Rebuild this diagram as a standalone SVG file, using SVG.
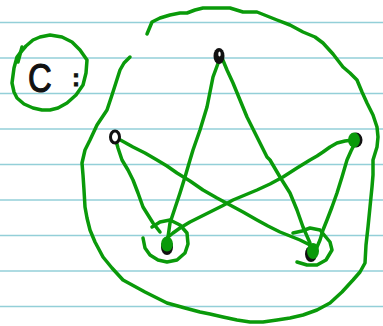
<svg xmlns="http://www.w3.org/2000/svg" width="383" height="326" viewBox="0 0 383 326">
<style>
.rule{stroke:#93cfd8;stroke-width:1.5}
.ink{fill:none;stroke:#0a9a0a;stroke-width:3.5;stroke-linecap:round;stroke-linejoin:round}
.blk{fill:#111}
.gf{fill:#0a9a0a}
.lbl{font-family:"Liberation Sans",Arial,sans-serif;fill:#111;stroke:#111}
</style>
<rect width="383" height="326" fill="#fff"/>
<g id="paper">
<line class="rule" x1="0" y1="22.5" x2="383" y2="22.5"/>
<line class="rule" x1="0" y1="58" x2="383" y2="58"/>
<line class="rule" x1="0" y1="93.5" x2="383" y2="93.5"/>
<line class="rule" x1="0" y1="129" x2="383" y2="129"/>
<line class="rule" x1="0" y1="164.5" x2="383" y2="164.5"/>
<line class="rule" x1="0" y1="200" x2="383" y2="200"/>
<line class="rule" x1="0" y1="235.5" x2="383" y2="235.5"/>
<line class="rule" x1="0" y1="271" x2="383" y2="271"/>
<line class="rule" x1="0" y1="306.5" x2="383" y2="306.5"/>
</g>
<g id="enclosure">
<path class="ink" d="M147,34 L152,22 L160,18 L170,15 L180,13 L187,13 L195,10 L203,8 L215,8 L230,8 L243,12 L257,12 L267,16 L277,20 L290,25 L303,32 L315,37 L323,43 L333,54 L343,67 L350,73 L357,80 L362,92 L367,103 L373,115 L377,127 L378,137 L377,147 L373,160 L373,175 L372,187 L370,207 L368,227 L366,245 L365,263 L360,272 L353,280 L342,292 L330,303 L317,310 L303,315 L290,318 L277,320 L263,322 L250,322 L237,320 L223,317 L210,314 L200,312 L185,308 L167,303 L145,292 L123,280 L112,268 L103,257 L95,242 L90,230 L87,218 L85,207 L84,190 L83,175 L82,163 L85,150 L90,140 L97,125 L107,110 L112,95 L120,70 L124,63 L130,57"/>
</g>
<g id="connectors">
<path class="ink" d="M220,58 L213,77 L210,92 L207,107 L200,130 L193,150 L190,160 L185,177 L180,193 L175,208 L170,223 L168,237"/>
<path class="ink" d="M222,58 L227,70 L233,83 L240,100 L247,117 L257,137 L267,157 L270,160 L280,177 L290,193 L297,210 L303,227 L310,243"/>
<path class="ink" d="M115,137 L124,142 L133,147 L145,153 L157,160 L167,166 L177,173 L190,181 L203,190 L217,198 L230,205 L243,212 L257,220 L268,226 L280,232 L290,236 L300,240 L310,245"/>
<path class="ink" d="M115,137 L118,148 L122,160 L128,170 L133,180 L138,193 L143,207 L148,215 L153,223 L160,232"/>
<path class="ink" d="M353,140 L345,141 L337,143 L330,147 L323,152 L317,156 L310,160 L297,168 L283,177 L270,184 L257,190 L245,195 L233,200 L222,206 L210,212 L200,217 L190,222 L180,228 L173,233 L167,238"/>
<path class="ink" d="M355,143 L351,151 L347,160 L342,177 L337,193 L332,207 L327,220 L323,230 L320,240 L317,247"/>
</g>
<g id="n-label">
<path class="ink" d="M18,62 L22,47"/>
<path class="ink" d="M20,53 L17,57 L14,68 L12,83 L14,92 L17,98 L24,104 L33,108 L42,110 L50,110 L58,108 L67,103 L76,95 L83,85 L86,73 L87,60 L80,50 L72,42 L62,37 L50,35 L40,37 L33,40 L26,46 L20,53"/>
<text class="lbl" transform="translate(28,92) scale(0.8,1)" font-size="41" stroke-width="1.2">C</text>
<text class="lbl" x="72" y="86" font-size="24" font-weight="bold" stroke-width="0.8">:</text>
</g>
<g id="n-top">
<ellipse class="blk" cx="219" cy="56" rx="5.5" ry="8"/>
<ellipse cx="219.5" cy="54" rx="1.2" ry="2.5" fill="#fff"/>
</g>
<g id="n-left">
<ellipse cx="115" cy="137" rx="4.5" ry="6" fill="#fff" stroke="#111" stroke-width="3"/>
</g>
<g id="n-right">
<ellipse class="blk" cx="356" cy="140" rx="6.5" ry="7.5"/>
<ellipse class="gf" cx="354" cy="140" rx="6" ry="7.5"/>
</g>
<g id="n-bl">
<ellipse class="blk" cx="167" cy="247" rx="6" ry="8"/>
<ellipse class="gf" cx="167" cy="244" rx="6" ry="7.5"/>
<path class="ink" d="M143,238 L145,248 L150,255 L158,260 L167,262 L177,260 L185,253 L188,244 L187,233 L180,225 L170,220 L160,222 L152,227"/>
</g>
<g id="n-br">
<ellipse class="blk" cx="311" cy="254" rx="6" ry="8"/>
<ellipse class="gf" cx="313" cy="251" rx="6" ry="8"/>
<path class="ink" d="M297,262 L307,265 L317,265 L326,260 L332,250 L330,242 L320,230 L310,228 L302,231 L293,233"/>
</g>
</svg>
